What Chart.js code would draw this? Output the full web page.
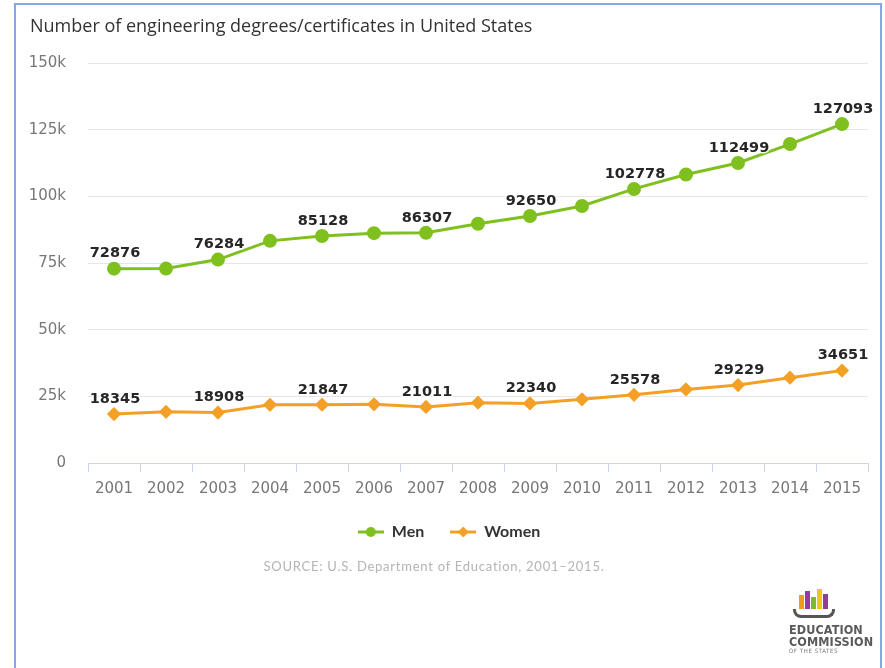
<!DOCTYPE html>
<html>
<head>
<meta charset="utf-8">
<title>Engineering degrees</title>
<script src="https://cdn.jsdelivr.net/npm/chart.js@4.4.0/dist/chart.umd.min.js"></script>
<style>
  html, body { margin: 0; padding: 0; background: #fff; }
  body { width: 885px; height: 668px; position: relative; overflow: hidden; font-family: Lato, sans-serif; }
  #frame { position: absolute; left: 14px; top: 3px; width: 864px; height: 700px; border: 2px solid #86a6e2; border-bottom: none; }
  #wrap { position: absolute; left: 0; top: 0; width: 885px; height: 668px; }
  #source { position: absolute; left: 0; width: 868px; top: 558px; text-align: center; font-size: 13px; letter-spacing: 0.75px; color: #b4b4b4; }
  #logo { position: absolute; left: 789px; top: 587px; width: 90px; }
  #logo .bars { position: relative; height: 22px; margin-left: 8px; }
  #logo .bars span { position: absolute; bottom: 0; width: 5px; }
  #logo .bracket { width: 36px; height: 6px; margin-left: 4px; border: 3px solid #555; border-top: none; border-radius: 0 0 8px 8px; }
  #logo .name { font-family: "Liberation Sans Narrow", "DejaVu Sans Condensed", sans-serif; font-weight: bold; color: #5a5a5a; font-size: 12.5px; line-height: 11.5px; margin-top: 6px; letter-spacing: 0.1px; }
  #logo .sub { font-family: "DejaVu Sans Condensed", sans-serif; color: #777; font-size: 6px; line-height: 8px; letter-spacing: 0.6px; }
</style>
</head>
<body>
<div id="frame"></div>
<div id="wrap"><canvas id="degreesChart" width="885" height="668"></canvas></div>
<div id="source">SOURCE: U.S. Department of Education, 2001–2015.</div>
<div id="logo">
  <div class="bars">
    <span style="left:2px;height:14px;background:#f39a1e"></span>
    <span style="left:8px;height:18px;background:#8e3f96"></span>
    <span style="left:14px;height:12px;background:#7dbb2a"></span>
    <span style="left:20px;height:20px;background:#f6c21c"></span>
    <span style="left:26px;height:15px;background:#8e3f96"></span>
  </div>
  <div class="bracket"></div>
  <div class="name">EDUCATION<br>COMMISSION</div>
  <div class="sub">OF THE STATES</div>
</div>
<script>
// Data
const years = ['2001', '2002', '2003', '2004', '2005', '2006', '2007', '2008', '2009', '2010', '2011', '2012', '2013', '2014', '2015'];
const menValues = [72876, 72900, 76284, 83300, 85128, 86200, 86307, 89700, 92650, 96400, 102778, 108200, 112499, 119600, 127093];
const womenValues = [18345, 19200, 18908, 21800, 21847, 22000, 21011, 22600, 22340, 23900, 25578, 27600, 29229, 32000, 34651];
const labelledYears = ['2001', '2003', '2005', '2007', '2009', '2011', '2013', '2015'];
const yTicks = [0, 25000, 50000, 75000, 100000, 125000, 150000];

const menColor = '#7fc01f';
const womenColor = '#f4a027';

// small line + marker pictures for the legend
function legendIcon(color, shape) {
  const c = document.createElement('canvas');
  c.width = 26;
  c.height = 12;
  const g = c.getContext('2d');
  g.strokeStyle = color;
  g.lineWidth = 3;
  g.beginPath();
  g.moveTo(0, 6);
  g.lineTo(26, 6);
  g.stroke();
  g.fillStyle = color;
  g.beginPath();
  if (shape === 'circle') {
    g.arc(13, 6, 5, 0, Math.PI * 2);
  } else {
    g.moveTo(13, 0.5);
    g.lineTo(18.5, 6);
    g.lineTo(13, 11.5);
    g.lineTo(7.5, 6);
    g.closePath();
  }
  g.fill();
  return c;
}
const legendIcons = [legendIcon(menColor, 'circle'), legendIcon(womenColor, 'diamond')];

// value labels above every second point
const valueLabels = {
  id: 'valueLabels',
  afterDatasetsDraw(chart) {
    const ctx = chart.ctx;
    ctx.save();
    ctx.font = 'bold 14.5px "DejaVu Sans"';
    ctx.textAlign = 'center';
    ctx.textBaseline = 'middle';
    ctx.lineJoin = 'round';
    chart.data.datasets.forEach((ds, di) => {
      const meta = chart.getDatasetMeta(di);
      meta.data.forEach((pt, i) => {
        if (!labelledYears.includes(chart.data.labels[i])) return;
        const text = String(ds.data[i]);
        ctx.strokeStyle = 'rgba(255,255,255,0.85)';
        ctx.lineWidth = 3;
        ctx.strokeText(text, pt.x + 1, pt.y - 15);
        ctx.fillStyle = '#262626';
        ctx.fillText(text, pt.x + 1, pt.y - 15);
      });
    });
    ctx.restore();
  }
};

const ctx = document.getElementById('degreesChart').getContext('2d');
new Chart(ctx, {
  type: 'line',
  data: {
    labels: years,
    datasets: [{
      label: 'Men',
      data: menValues,
      borderColor: menColor,
      backgroundColor: menColor,
      borderWidth: 3,
      pointStyle: 'circle',
      pointRadius: 5.5,
      pointHoverRadius: 5.5,
      tension: 0
    }, {
      label: 'Women',
      data: womenValues,
      borderColor: womenColor,
      backgroundColor: womenColor,
      borderWidth: 3,
      pointStyle: 'rectRot',
      pointRadius: 5,
      pointHoverRadius: 5,
      tension: 0
    }]
  },
  options: {
    responsive: false,
    animation: false,
    layout: {
      padding: { left: 30, right: 17, top: 16, bottom: 118 }
    },
    scales: {
      x: {
        offset: true,
        grid: {
          offset: true,
          drawOnChartArea: false,
          drawTicks: true,
          tickLength: 9,
          color: '#ccd6eb'
        },
        border: { display: true, color: '#ccd6eb' },
        ticks: {
          color: '#777',
          font: { family: 'DejaVu Sans', size: 15 },
          padding: 8,
          maxRotation: 0
        },
        afterFit(scale) { scale.height = 35; }
      },
      y: {
        min: 0,
        max: 150000,
        afterBuildTicks(scale) { scale.ticks = yTicks.map(v => ({ value: v })); },
        grid: { color: '#e6e6e6', drawTicks: false },
        border: { display: false },
        ticks: {
          color: '#777',
          font: { family: 'DejaVu Sans', size: 15 },
          padding: 22,
          callback: v => v === 0 ? '0' : (v / 1000) + 'k'
        },
        afterFit(scale) { scale.width = 58; }
      }
    },
    plugins: {
      title: {
        display: true,
        text: 'Number of engineering degrees/certificates in United States',
        align: 'start',
        color: '#333',
        font: { family: 'Open Sans', size: 18, weight: 'normal' },
        padding: { top: 0, bottom: 25.4 }
      },
      legend: {
        position: 'bottom',
        labels: {
          usePointStyle: true,
          pointStyleWidth: 26,
          padding: 26,
          color: '#333',
          font: { family: 'Lato', size: 16, weight: 'bold' },
          generateLabels(chart) {
            const items = Chart.defaults.plugins.legend.labels.generateLabels(chart);
            items.forEach((it, i) => { it.pointStyle = legendIcons[i]; });
            return items;
          }
        }
      },
      tooltip: { enabled: false }
    }
  },
  plugins: [valueLabels]
});
</script>
</body>
</html>
